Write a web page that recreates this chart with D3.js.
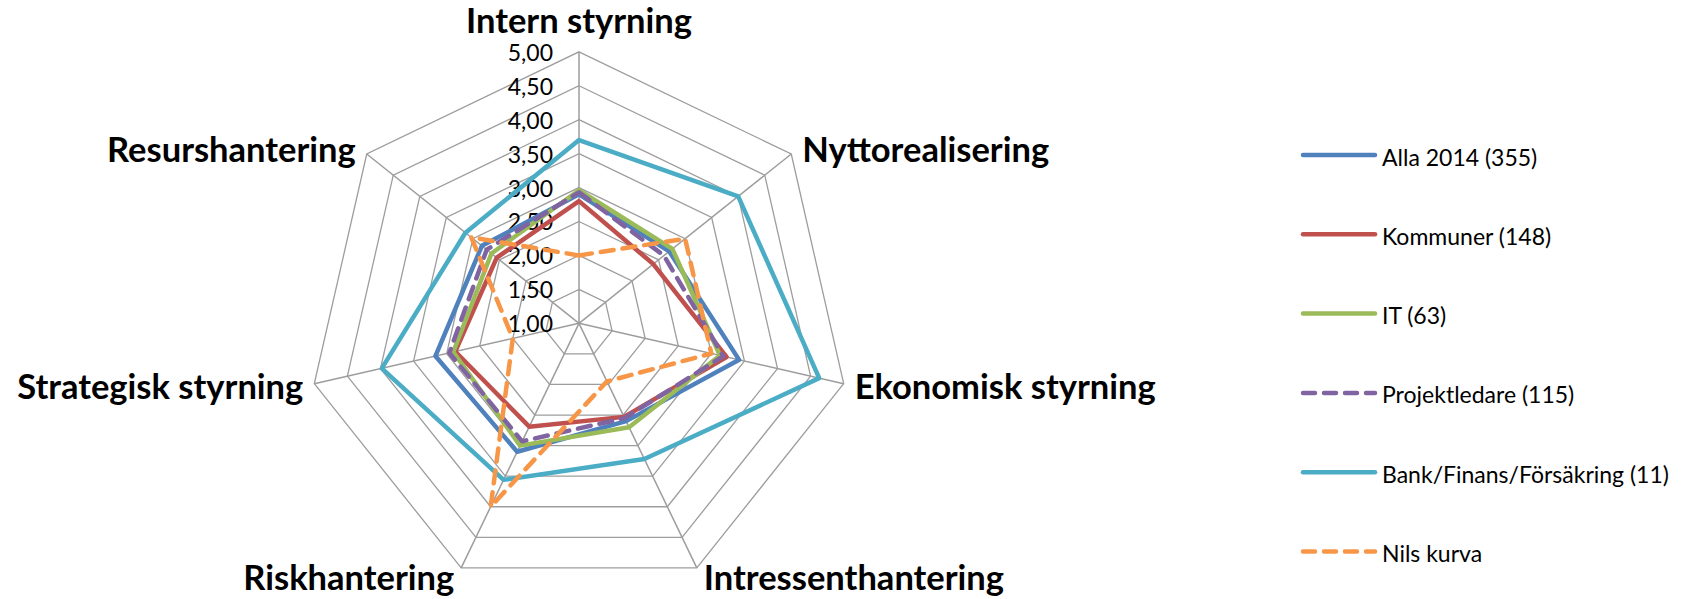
<!DOCTYPE html>
<html>
<head>
<meta charset="utf-8">
<script src="https://cdn.jsdelivr.net/npm/d3@7"></script>
<style>
  html, body { margin: 0; padding: 0; background: #fff; }
  svg { display: block; }
</style>
</head>
<body>
<svg id="chart" width="1697" height="599"></svg>
<script>
// ---------- DATA ----------
const axes = ["Intern styrning", "Nyttorealisering", "Ekonomisk styrning", "Intressenthantering",
              "Riskhantering", "Strategisk styrning", "Resurshantering"];
const seriesNames = ["Alla 2014 (355)", "Kommuner (148)", "IT (63)", "Projektledare (115)",
                     "Bank/Finans/Försäkring (11)", "Nils kurva"];
const alla2014      = [2.90, 2.70, 3.42, 2.60, 3.10, 3.17, 2.83];
const kommuner      = [2.80, 2.40, 3.23, 2.53, 2.69, 2.87, 2.55];
const itSeries      = [2.96, 2.76, 3.13, 2.70, 3.00, 2.90, 2.65];
const projektledare = [2.93, 2.60, 3.18, 2.55, 2.93, 2.96, 2.74];
const bankFinans    = [3.70, 4.00, 4.63, 3.22, 3.56, 3.98, 3.14];
const nilsKurva     = [2.00, 3.00, 3.00, 1.95, 4.00, 2.00, 3.03];
const tickValues = [1.00, 1.50, 2.00, 2.50, 3.00, 3.50, 4.00, 4.50, 5.00];
const tickLabels = ["1,00", "1,50", "2,00", "2,50", "3,00", "3,50", "4,00", "4,50", "5,00"];

// ---------- STYLE / LAYOUT ----------
const seriesValues = [alla2014, kommuner, itSeries, projektledare, bankFinans, nilsKurva];
const colors = ["#4F81BD", "#C0504D", "#9BBB59", "#8064A2", "#4BACC6", "#F79646"];
const dashed = [false, false, false, true, false, true];
const cx = 579, cy = 323.3, R = 271.5;
const FONT = "Lato, 'Open Sans', sans-serif";

const svg = d3.select("#chart");
const g = svg.append("g").attr("transform", `translate(${cx},${cy})`);

const r = d3.scaleLinear().domain([1, 5]).range([0, R]);
const ang = d3.scaleLinear().domain([0, axes.length]).range([0, 2 * Math.PI]);
const pt = (i, v) => [Math.sin(ang(i)) * r(v), -Math.cos(ang(i)) * r(v)];

// rings
const ringLine = d3.lineRadial().angle((d, i) => ang(i)).radius(d => r(d)).curve(d3.curveLinearClosed);
g.selectAll("path.ring").data(tickValues.filter(t => t > 1)).join("path")
  .attr("class", "ring")
  .attr("d", t => ringLine(axes.map(() => t)))
  .attr("fill", "none").attr("stroke", "#9d9d9d").attr("stroke-width", 1.3);

// spokes
g.selectAll("line.spoke").data(axes).join("line")
  .attr("class", "spoke")
  .attr("x1", 0).attr("y1", 0)
  .attr("x2", (d, i) => pt(i, 5)[0]).attr("y2", (d, i) => pt(i, 5)[1])
  .attr("stroke", "#9d9d9d").attr("stroke-width", 1.5);

// tick labels
g.selectAll("text.tick").data(tickValues).join("text")
  .attr("class", "tick")
  .attr("x", -26)
  .attr("y", d => -r(d) + 9)
  .attr("text-anchor", "end")
  .attr("font-family", FONT).attr("font-size", 23).attr("fill", "#000")
  .text((d, i) => tickLabels[i]);

// axis labels
g.selectAll("text.axis").data(axes).join("text")
  .attr("class", "axis")
  .each(function (d, i) {
    const [x, y] = pt(i, 5);
    const s = Math.sin(ang(i)), c = Math.cos(ang(i));
    let anchor, tx, ty;
    if (Math.abs(s) < 0.01) { anchor = "middle"; tx = x; ty = y - 19; }
    else {
      anchor = s > 0 ? "start" : "end";
      tx = x + (s > 0 ? 1 : -1) * (c < -0.5 ? 7 : 11);
      ty = y + (c > 0 ? 8 : (c > -0.5 ? 15 : 22));
    }
    d3.select(this).attr("x", tx).attr("y", ty).attr("text-anchor", anchor);
  })
  .attr("font-family", FONT).attr("font-weight", "bold").attr("font-size", 34.5).attr("fill", "#000")
  .text(d => d);

// series
const seriesLine = d3.lineRadial().angle((d, i) => ang(i)).radius(d => r(d)).curve(d3.curveLinearClosed);
g.selectAll("path.series").data(seriesValues).join("path")
  .attr("class", "series")
  .attr("d", d => seriesLine(d))
  .attr("fill", "none")
  .attr("stroke", (d, i) => colors[i])
  .attr("stroke-width", 4.5)
  .attr("stroke-linejoin", "round")
  .attr("stroke-linecap", "round")
  .attr("stroke-dasharray", (d, i) => dashed[i] ? "13,9" : null);

// legend
const leg = svg.append("g").attr("transform", "translate(1303,155)");
const rowH = 79.3;
const items = leg.selectAll("g").data(seriesNames).join("g")
  .attr("transform", (d, i) => `translate(0,${i * rowH})`);
items.append("line")
  .attr("x1", 0).attr("x2", 72).attr("y1", 0).attr("y2", 0)
  .attr("stroke", (d, i) => colors[i]).attr("stroke-width", 4.5)
  .attr("stroke-linecap", "round")
  .attr("stroke-dasharray", (d, i) => dashed[i] ? "12,9" : null);
items.append("text")
  .attr("x", 79).attr("y", 10.5)
  .attr("font-family", FONT).attr("font-size", 23).attr("fill", "#000")
  .text(d => d);
</script>
</body>
</html>
